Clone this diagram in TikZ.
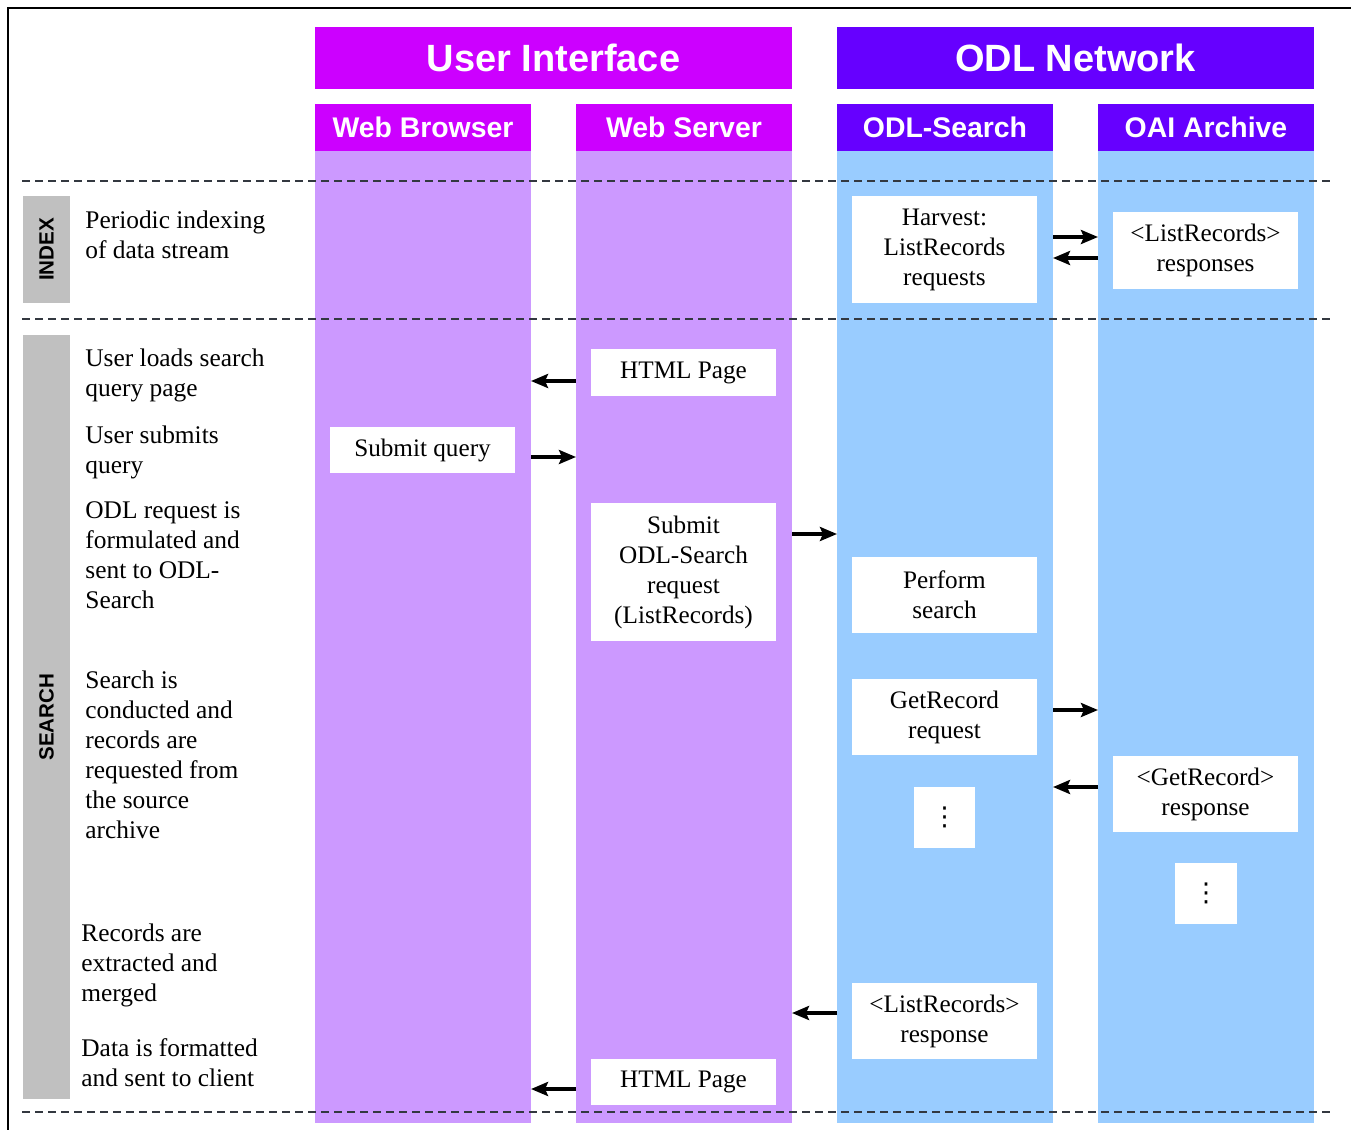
\documentclass[tikz,border=0pt]{standalone}
\usepackage{fontspec}
\setmainfont{Liberation Serif}
\setsansfont{Liberation Sans}
\newfontfamily\symfont{DejaVu Sans}
\usetikzlibrary{arrows.meta}
\usetikzlibrary{positioning}

\definecolor{uihead}{HTML}{CC00FF}
\definecolor{uiback}{HTML}{CC99FF}
\definecolor{odlhead}{HTML}{6600FF}
\definecolor{odlback}{HTML}{99CCFF}
\definecolor{phasegray}{HTML}{C0C0C0}
\definecolor{sepgray}{HTML}{333840}

\tikzset{
  lane/.style={inner sep=0pt, outer sep=0pt, minimum width=108pt, minimum height=486pt},
  hdr/.style={inner sep=0pt, outer sep=0pt, text=white, minimum width=238.5pt, minimum height=31pt,
    font=\sffamily\bfseries\fontsize{19}{22}\selectfont},
  subhdr/.style={inner sep=0pt, outer sep=0pt, text=white, minimum width=108pt, minimum height=23.5pt,
    text height=12.5pt, text depth=3pt, font=\sffamily\bfseries\fontsize{14.2}{16}\selectfont},
  box/.style={fill=white, inner sep=0pt, outer sep=0pt, minimum width=92.5pt, align=center,
    font=\fontsize{12.6}{15}\selectfont},
  more/.style={box, minimum width=30.5pt, minimum height=30.5pt, font=\symfont\fontsize{13}{15}\selectfont},
  note/.style={anchor=north west, align=left, inner sep=0pt, font=\fontsize{12.7}{15}\selectfont},
  phase/.style={fill=phasegray, inner sep=0pt, rotate=90, minimum height=23.5pt,
    font=\sffamily\bfseries\fontsize{10.3}{12}\selectfont},
  msg/.style={line width=2pt, -{Stealth[length=8.5pt, width=7pt, inset=1.5pt]}},
  sep/.style={sepgray, line width=0.6pt, dash pattern=on 4pt off 2.5pt}
}

\begin{document}
\begin{tikzpicture}[x=0.5pt, y=-0.5pt]
  \useasboundingbox (0,0) rectangle (1351,1130);

  % frame
  \draw[line width=1pt] (1351,8) -- (8,8) -- (8,1130);

  % lanes
  \node[lane, fill=uiback] (brw) at (423,637) {};
  \node[lane, fill=uiback] (srv) at (684,637) {};
  \node[lane, fill=odlback] (srch) at (945,637) {};
  \node[lane, fill=odlback] (oai) at (1206,637) {};

  \node[subhdr, fill=uihead, above=0pt of brw] (brwhd) {Web Browser};
  \node[subhdr, fill=uihead, above=0pt of srv] (srvhd) {Web Server};
  \node[subhdr, fill=odlhead, above=0pt of srch] (srchhd) {ODL-Search};
  \node[subhdr, fill=odlhead, above=0pt of oai] (oaihd) {OAI Archive};

  \node[hdr, fill=uihead] (ui) at (553.5,58) {User Interface};
  \node[hdr, fill=odlhead] (odl) at (1075.5,58) {ODL Network};

  % phases
  \draw[sep] (22,181) -- (1330,181);
  \draw[sep] (22,319) -- (1330,319);
  \draw[sep] (22,1112) -- (1330,1112);

  \node[phase, minimum width=53.5pt] (index) at (46.5,249.5) {INDEX};
  \node[phase, minimum width=382pt] (search) at (46.5,717) {SEARCH};

  \node[note] (n1) at (85,210) {Periodic indexing\\of data stream};
  \node[note] (n2) at (85,348) {User loads search\\query page};
  \node[note] (n3) at (85,425) {User submits\\query};
  \node[note] (n4) at (85,501) {ODL request is\\formulated and\\sent to ODL-\\Search};
  \node[note] (n5) at (85,670) {Search is\\conducted and\\records are\\requested from\\the source\\archive};
  \node[note] (n6) at (81,923) {Records are\\extracted and\\merged};
  \node[note] (n7) at (81,1038) {Data is formatted\\and sent to client};

  % steps
  \node[box, minimum height=53.5pt] (harvest) at (944.5,249.5) {Harvest:\\ListRecords\\requests};
  \node[box, minimum height=38.5pt] (lrall) at (1205.5,250.5) {<ListRecords>\\responses};
  \node[box, minimum height=23.5pt] (page1) at (683.5,372.5) {HTML Page};
  \node[box, minimum height=23pt] (query) at (422.5,450) {Submit query};
  \node[box, minimum height=69pt] (odlreq) at (683.5,572) {Submit\\ODL-Search\\request\\(ListRecords)};
  \node[box, minimum height=38pt] (perform) at (944.5,595) {Perform\\search};
  \node[box, minimum height=38pt] (getreq) at (944.5,717) {GetRecord\\request};
  \node[box, minimum height=38pt] (getresp) at (1205.5,794) {<GetRecord>\\response};
  \node[more] (more1) at (944.5,817.5) {⋮};
  \node[more, minimum width=31pt] (more2) at (1206,893.5) {⋮};
  \node[box, minimum height=38pt] (lrone) at (944.5,1021) {<ListRecords>\\response};
  \node[box, minimum height=23pt] (page2) at (683.5,1082) {HTML Page};

  % messages
  \draw[msg] (srch.east |- 0,237) -- (oai.west |- 0,237);
  \draw[msg] (oai.west |- 0,258) -- (srch.east |- 0,258);
  \draw[msg] (srv.west |- 0,381) -- (brw.east |- 0,381);
  \draw[msg] (brw.east |- 0,457) -- (srv.west |- 0,457);
  \draw[msg] (srv.east |- 0,534) -- (srch.west |- 0,534);
  \draw[msg] (srch.east |- 0,710) -- (oai.west |- 0,710);
  \draw[msg] (oai.west |- 0,787) -- (srch.east |- 0,787);
  \draw[msg] (srch.west |- 0,1013) -- (srv.east |- 0,1013);
  \draw[msg] (srv.west |- 0,1089) -- (brw.east |- 0,1089);
\end{tikzpicture}
\end{document}
